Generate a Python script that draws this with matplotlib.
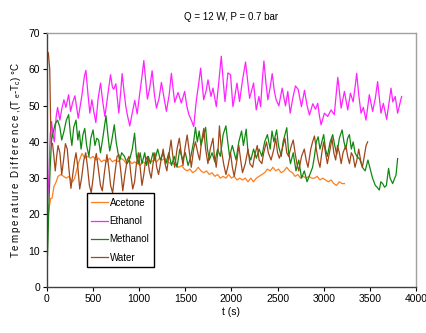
import numpy as np
import matplotlib
matplotlib.use('Agg')
from matplotlib import pyplot as plt

plt.rcParams['font.family'] = ['Liberation Sans', 'DejaVu Sans']
plt.rcParams['mathtext.default'] = 'regular'

# Acetone (t, dT)
acetone_t = [5, 15, 25, 40, 55, 75, 100, 120, 150, 180, 210, 240, 260, 280, 300, 320, 340, 360, 380, 410,
             440, 470, 500, 530, 560, 590, 620, 650, 680, 710, 740, 770, 800, 830, 860, 890, 920, 950, 980, 1010,
             1040, 1070, 1100, 1130, 1160, 1190, 1220, 1250, 1280, 1310, 1340, 1370, 1400, 1430, 1460, 1490, 1520, 1550, 1580, 1610,
             1640, 1670, 1700, 1730, 1760, 1790, 1820, 1850, 1880, 1910, 1940, 1970, 2000, 2030, 2060, 2090, 2120, 2150, 2180, 2210,
             2240, 2270, 2300, 2330, 2360, 2390, 2420, 2450, 2480, 2510, 2540, 2570, 2600, 2630, 2660, 2690, 2720, 2750, 2780, 2810,
             2840, 2870, 2900, 2930, 2960, 2990, 3020, 3050, 3080, 3110, 3140, 3170, 3200, 3225]
acetone_v = [14.7, 20, 22, 24.4, 24.5, 27.6, 29, 30.5, 31, 30.5, 30, 30.5, 29.5, 29, 30, 32, 34, 35.5, 36.8, 35.5,
             36, 35.5, 36, 35, 35.5, 34.5, 35, 34.5, 35.5, 34.5, 35, 34.5, 35.5, 35, 34, 35, 34, 34.5, 34, 33.5,
             34.5, 34, 35, 34.5, 35, 34.5, 35.5, 35, 35.5, 34.5, 34, 34, 33.5, 33, 33.5, 32.5, 32, 32.5, 31.5, 32,
             33, 32, 31.5, 32, 31, 31.5, 30.5, 31, 30, 30.5, 30, 31, 30, 30.5, 29.5, 30, 29.5, 30, 29, 30,
             29, 30, 30.5, 31, 31.5, 32.5, 32, 33, 32, 32.5, 31.5, 32, 33, 32, 31.5, 30.5, 31, 30, 30.5, 30,
             30.5, 30, 30, 30.5, 29.5, 30, 29.5, 29, 29.5, 28.5, 28, 29, 28.5, 28.5]

# Ethanol
ethanol_t = [7, 20, 35, 50, 65, 80, 100, 115, 140, 160, 184, 205, 235, 256, 280, 303, 339, 380, 405, 422,
             445, 465, 487, 510, 530, 555, 581, 605, 628, 660, 689, 710, 725, 747, 779, 800, 815, 835, 855, 875,
             898, 925, 952, 978, 1006, 1030, 1050, 1070, 1089, 1115, 1140, 1165, 1187, 1215, 1241, 1270, 1295, 1325, 1349, 1370,
             1385, 1421, 1457, 1493, 1515, 1540, 1565, 1591, 1620, 1645, 1666, 1699, 1725, 1746, 1778, 1800, 1836, 1865, 1890, 1910,
             1930, 1962, 1990, 2016, 2040, 2060, 2088, 2120, 2153, 2175, 2197, 2240, 2269, 2298, 2316, 2335, 2352, 2375, 2395, 2420,
             2442, 2465, 2485, 2514, 2550, 2586, 2611, 2637, 2665, 2694, 2723, 2759, 2792, 2820, 2846, 2882, 2911, 2936, 2955, 2972,
             3008, 3044, 3080, 3115, 3135, 3153, 3170, 3189, 3225, 3261, 3290, 3320, 3340, 3358, 3380, 3405, 3430, 3459, 3495, 3531,
             3560, 3585, 3621, 3647, 3683, 3710, 3730, 3750, 3776, 3802, 3845]
ethanol_v = [24, 30, 42, 45.6, 42, 40, 47, 49.5, 46, 49, 51.6, 49.5, 53, 48.4, 51, 52.7, 46.5, 53, 58, 59.7,
             53, 47.9, 51.6, 48, 45.3, 52, 56.2, 51, 47, 53, 58.5, 55, 54.5, 56, 47.9, 54, 58.8, 54, 49.7, 47,
             44.4, 48, 51.4, 47.7, 53.4, 58, 62.4, 57, 51.8, 55, 59.6, 53, 49.3, 52, 56.4, 52, 48.4, 53, 58.9, 54,
             50.9, 53.6, 50.7, 53.9, 50, 47.4, 46, 44.2, 51.6, 56, 60.3, 51.6, 54, 57.1, 52.5, 54.8, 49.7, 57, 63.6, 57,
             51.1, 59, 58.5, 49.7, 53, 56.2, 51.1, 57, 62, 57, 52, 56.2, 48.8, 52.5, 49.7, 57, 62.3, 56, 51.6, 55,
             58.8, 54, 51.6, 49.9, 54.8, 49.9, 53.9, 47.9, 52, 55.4, 54.5, 49.7, 54.2, 50, 47.4, 50.5, 49, 50.6, 47, 44.7,
             47.9, 47, 48.8, 47.5, 53, 57.8, 54, 49.3, 53.9, 48.8, 53.4, 51, 55, 58.9, 53, 47.9, 49.5, 46, 53, 48.4,
             52, 56.6, 47.9, 50.6, 46.2, 51, 54.8, 51, 52.5, 47.9, 52.5]

# Methanol
methanol_t = [0, 10, 20, 35, 50, 70, 90, 115, 140, 160, 185, 210, 235, 255, 270, 290, 315, 335, 350, 370,
              390, 410, 430, 455, 475, 500, 520, 540, 560, 580, 605, 640, 660, 680, 700, 730, 750, 770, 790, 810,
              840, 870, 900, 925, 950, 970, 990, 1010, 1030, 1060, 1080, 1100, 1120, 1150, 1170, 1200, 1230, 1260, 1290, 1320,
              1350, 1380, 1410, 1440, 1470, 1500, 1530, 1560, 1590, 1610, 1630, 1650, 1670, 1700, 1720, 1740, 1760, 1790, 1820, 1850,
              1880, 1910, 1940, 1960, 1980, 2010, 2050, 2080, 2110, 2130, 2160, 2180, 2210, 2240, 2270, 2300, 2330, 2360, 2390, 2420,
              2440, 2460, 2490, 2510, 2540, 2560, 2580, 2600, 2620, 2640, 2670, 2700, 2730, 2760, 2790, 2820, 2850, 2880, 2900, 2920,
              2940, 2960, 2980, 3000, 3020, 3040, 3070, 3098, 3120, 3142, 3170, 3200, 3220, 3240, 3260, 3279, 3300, 3320, 3340, 3360,
              3392, 3420, 3450, 3480, 3500, 3530, 3560, 3580, 3603, 3620, 3640, 3660, 3680, 3704, 3720, 3748, 3770, 3784, 3802]
methanol_v = [5, 12, 22, 33, 40.5, 43, 45, 46, 44, 40.5, 43, 46, 47.5, 42, 39, 44, 46, 40.5, 43, 38,
              42, 43.7, 39, 36, 41, 43.3, 39, 41, 40.5, 37, 41, 47.2, 42, 37.5, 40, 44.7, 40, 37, 35, 37,
              36, 34, 35.5, 38, 42.4, 36, 34, 37, 34, 37, 33.5, 36, 34, 37, 35, 38, 35, 37, 34, 37,
              33.5, 36, 33, 38, 35, 37, 33.5, 36, 40, 44, 40, 43, 39, 42, 44, 38, 35, 37, 34.5, 38,
              36, 42, 44.4, 40, 36, 39, 35, 40, 43, 39, 43.5, 37, 35, 38, 35.5, 38, 36, 40, 42, 38,
              43, 40, 43.3, 39, 36, 40, 42, 43.9, 37, 34, 37, 32, 35, 30, 32, 29, 31, 33, 36, 40,
              41.4, 38, 40, 42, 38, 36, 40, 42, 39, 36.5, 41, 43.3, 40, 38, 41, 42, 38, 40, 37, 36,
              35.2, 33, 32, 35, 33, 30, 28, 27.5, 26.7, 29, 28.5, 27.5, 28, 32.7, 30, 28.5, 30, 30.8, 35.4]

# Water
water_t = [0, 15, 30, 40, 48, 60, 75, 90, 105, 120, 140, 160, 180, 200, 220, 240, 260, 280, 300, 315,
           335, 355, 375, 400, 420, 440, 460, 480, 500, 520, 535, 555, 580, 600, 625, 650, 670, 690, 712, 735,
           760, 780, 800, 822, 845, 870, 890, 910, 930, 950, 970, 990, 1010, 1030, 1050, 1070, 1090, 1110, 1130, 1150,
           1170, 1190, 1210, 1230, 1260, 1280, 1300, 1320, 1345, 1365, 1385, 1410, 1435, 1455, 1475, 1495, 1520, 1545, 1565, 1590,
           1610, 1635, 1655, 1675, 1700, 1720, 1745, 1770, 1800, 1815, 1835, 1855, 1870, 1890, 1915, 1940, 1960, 1990, 2010, 2030,
           2060, 2080, 2100, 2120, 2150, 2180, 2200, 2230, 2250, 2280, 2300, 2330, 2350, 2380, 2400, 2430, 2460, 2480, 2500, 2520,
           2550, 2580, 2600, 2620, 2650, 2670, 2690, 2710, 2730, 2760, 2790, 2810, 2830, 2860, 2880, 2900, 2920, 2940, 2960, 2980,
           3000, 3020, 3040, 3070, 3090, 3110, 3130, 3150, 3170, 3190, 3210, 3240, 3260, 3280, 3300, 3320, 3340, 3360, 3380, 3400,
           3420, 3440, 3460, 3477]
water_v = [65, 64.5, 60, 45, 39.5, 39.6, 36, 32, 36, 39, 37, 31, 35, 39.5, 38, 32, 27.2, 31, 35, 37,
           33, 27, 30, 35, 37, 33, 28, 26, 30, 35, 36.8, 33, 28, 26.5, 32, 36.5, 33, 28, 26, 31,
           36, 36.5, 32, 26.5, 31, 35, 36, 31, 27, 29, 34, 37, 33, 28, 31, 35, 36, 32, 30, 34,
           37, 33, 31, 34, 38, 34, 32, 36, 40.5, 36, 33, 38, 41, 37, 33.5, 38, 41.9, 37, 33, 38,
           40, 37, 35, 40, 43.7, 38, 34, 38, 41, 36, 33, 38, 44.4, 38, 34, 31, 33, 37, 33, 30.5,
           35, 39, 35, 31.5, 34, 38, 34, 33, 36, 39, 35, 34, 37, 40, 37, 35, 38, 41, 37, 35.5,
           38, 41, 37, 36, 39, 40.5, 37, 34, 32, 36, 38, 35, 33, 38, 40, 41.6, 38, 35, 33, 37,
           40, 37, 34, 38, 41, 37, 35, 39, 37, 34, 37, 39, 36, 34, 37, 36, 33, 35, 38, 35,
           33, 36, 39, 40]

fig = plt.figure(figsize=(4.27, 3.33), dpi=100)
ax = fig.add_axes([0.110, 0.138, 0.864, 0.763])

lw = 0.9
ax.plot(acetone_t, acetone_v, color='#ff7f1e', lw=lw, label='Acetone')
ax.plot(ethanol_t, ethanol_v, color='#ff22ff', lw=lw, label='Ethanol')
ax.plot(methanol_t, methanol_v, color='#108810', lw=lw, label='Methanol')
ax.plot(water_t, water_v, color='#a0461a', lw=lw, label='Water')

ax.set_xlim(0, 4000)
ax.set_ylim(0, 70)
ax.set_xticks(np.arange(0, 4001, 500))
ax.set_yticks(np.arange(0, 71, 10))
ax.tick_params(labelsize=7.5, length=3, width=0.8, direction='out', pad=2)

for side in ['top', 'right']:
    ax.spines[side].set_color('#a0a0a0')
    ax.spines[side].set_linewidth(1.0)
for side in ['left', 'bottom']:
    ax.spines[side].set_color('#404040')
    ax.spines[side].set_linewidth(1.0)

ts = '\u2009'
ylab = ts.join('Temperature') + '  ' + ts.join('Difference') + ' ,(T $_{e}$-T$_{c}$) °C'
ax.set_title('Q = 12 W, P = 0.7 bar', fontsize=7, pad=9)
ax.set_xlabel('t (s)', fontsize=7.5, labelpad=2)
ax.set_ylabel(ylab, fontsize=7, labelpad=4)

leg = ax.legend(loc='lower left', bbox_to_anchor=(0.108, 0.079), borderaxespad=0,
                fancybox=False, framealpha=1, edgecolor='black', fontsize=7,
                handlelength=1.75, handletextpad=0.15, labelspacing=0.85, borderpad=0.45)
leg.get_frame().set_linewidth(1.0)

fig.savefig('out.png', dpi=100)
